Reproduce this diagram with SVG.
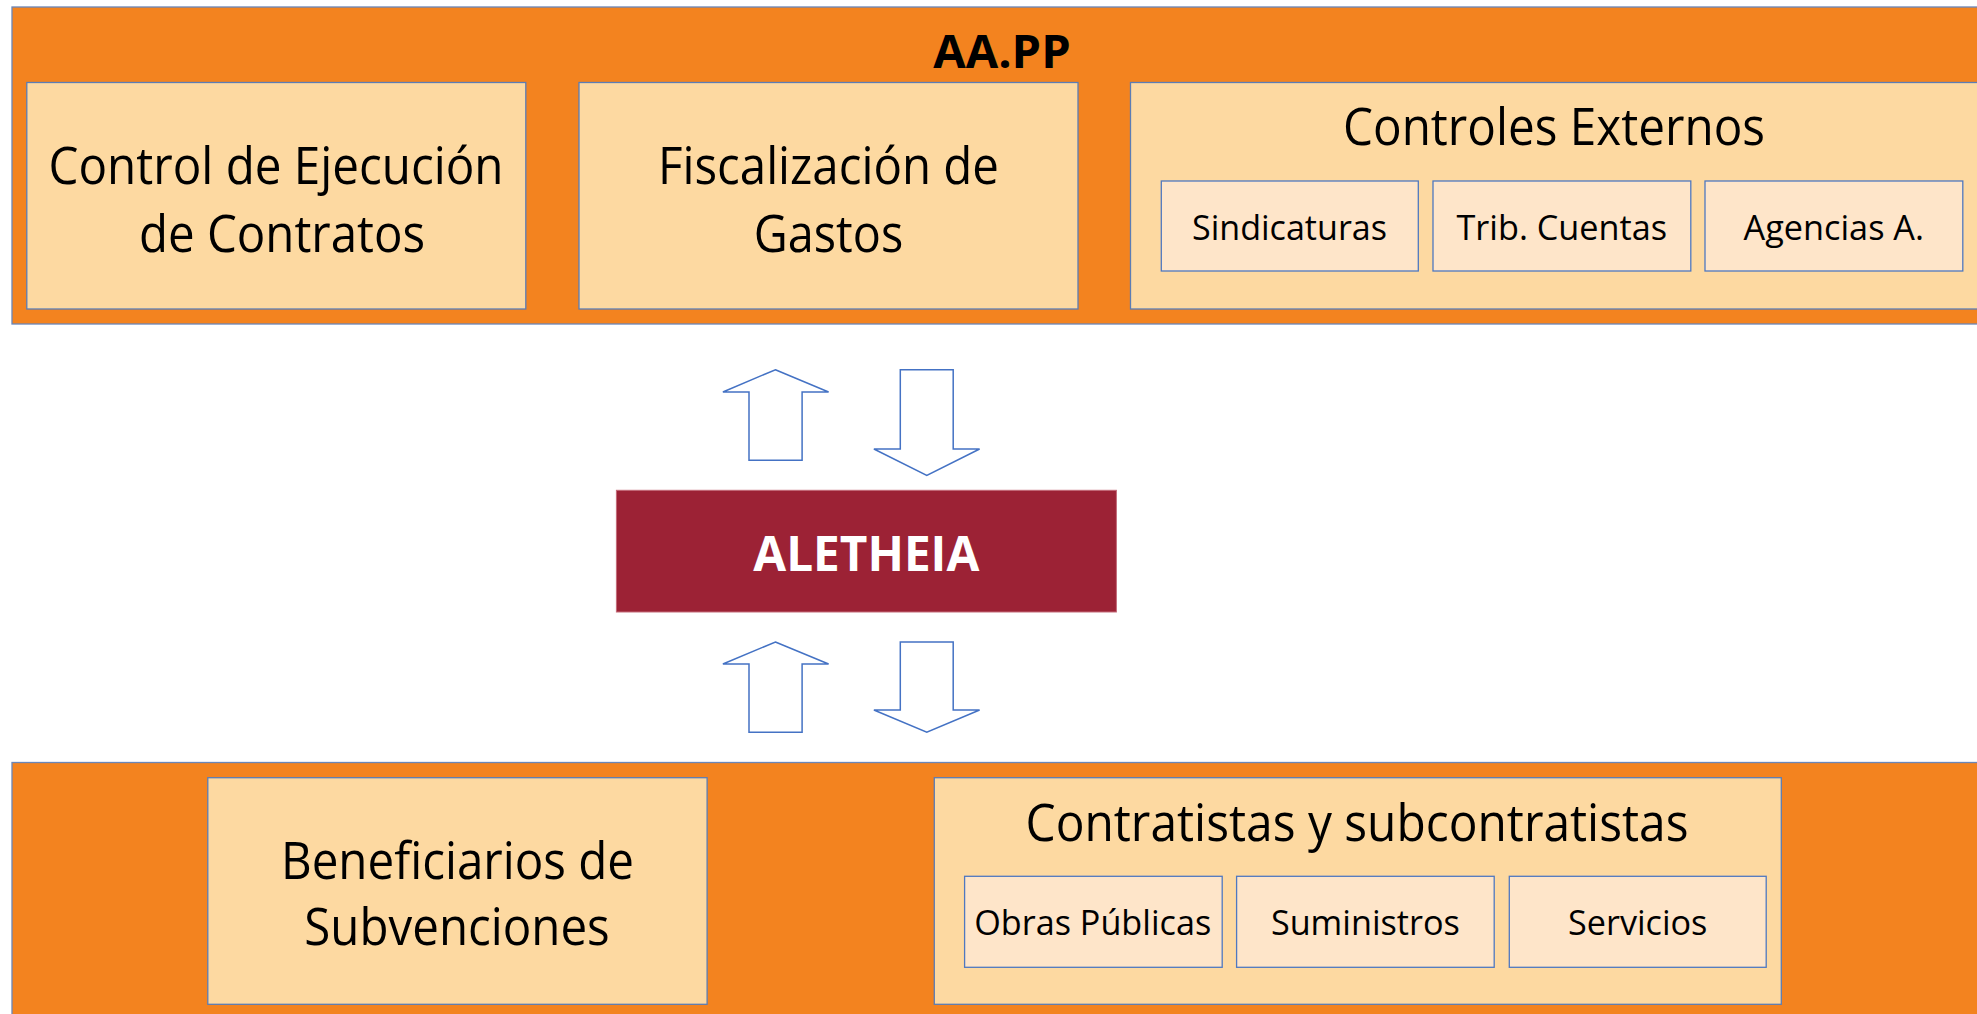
<svg xmlns="http://www.w3.org/2000/svg" width="1977" height="1014" viewBox="0 0 1977 1014">
<style>
.band{fill:#F3831F;stroke:#6A86B8;stroke-width:1.3}
.box{fill:#FDD9A1;stroke:#5B7DB5;stroke-width:1.3}
.sub{fill:#FEE5C9;stroke:#4F78C0;stroke-width:1.3}
.t{font-family:"Open Sans","Noto Sans","Liberation Sans",sans-serif;fill:#000;text-anchor:middle}
.big{font-size:51px}
.small{font-size:35.5px}
.bold{font-weight:bold}
.arrow{fill:#FFFFFF;stroke:#4472C4;stroke-width:1.5;stroke-linejoin:miter}
</style>
<rect width="1977" height="1014" fill="#FFFFFF"/>
<g id="aapp">
<rect class="band" x="12" y="7" width="2000" height="317"/>
<text class="t bold" x="1002" y="68" font-size="46" textLength="137.5" lengthAdjust="spacingAndGlyphs">AA.PP</text>
</g>
<g id="control-ejecucion">
<rect class="box" x="26.8" y="82.5" width="499" height="226.5"/>
<text class="t big" x="276" y="184.4" textLength="455" lengthAdjust="spacingAndGlyphs">Control de Ejecución</text>
<text class="t big" x="282" y="251.5" textLength="286" lengthAdjust="spacingAndGlyphs">de Contratos</text>
</g>
<g id="fiscalizacion">
<rect class="box" x="579" y="82.5" width="499" height="226.5"/>
<text class="t big" x="828.5" y="184.4" textLength="341" lengthAdjust="spacingAndGlyphs">Fiscalización de</text>
<text class="t big" x="828.5" y="251.5" textLength="149.4" lengthAdjust="spacingAndGlyphs">Gastos</text>
</g>
<g id="controles-externos">
<rect class="box" x="1130.5" y="82.5" width="900" height="226.5"/>
<text class="t big" x="1554" y="144.5" textLength="422" lengthAdjust="spacingAndGlyphs">Controles Externos</text>
</g>
<g id="sindicaturas">
<rect class="sub" x="1161.3" y="181" width="257" height="90"/>
<text class="t small" x="1289.5" y="240.3" textLength="195" lengthAdjust="spacingAndGlyphs">Sindicaturas</text>
</g>
<g id="trib-cuentas">
<rect class="sub" x="1433" y="181" width="257.8" height="90"/>
<text class="t small" x="1561.8" y="240.3" textLength="210.7" lengthAdjust="spacingAndGlyphs">Trib. Cuentas</text>
</g>
<g id="agencias">
<rect class="sub" x="1705" y="181" width="257.8" height="90"/>
<text class="t small" x="1833.8" y="240.3" textLength="180.5" lengthAdjust="spacingAndGlyphs">Agencias A.</text>
</g>
<g id="aletheia">
<rect x="616.4" y="490.3" width="500" height="121.7" fill="#9C2235" stroke="#C46A78" stroke-width="1"/>
<text class="t bold" x="866.3" y="570.5" font-size="47.5" fill="#FFFFFF" style="fill:#FFFFFF" textLength="226" lengthAdjust="spacingAndGlyphs">ALETHEIA</text>
</g>
<g id="terceros">
<rect class="band" x="12" y="762.5" width="2000" height="300"/>
</g>
<g id="beneficiarios">
<rect class="box" x="207.8" y="777.7" width="499.3" height="226.6"/>
<text class="t big" x="457.5" y="878.5" textLength="353" lengthAdjust="spacingAndGlyphs">Beneficiarios de</text>
<text class="t big" x="457" y="945" textLength="305.4" lengthAdjust="spacingAndGlyphs">Subvenciones</text>
</g>
<g id="contratistas">
<rect class="box" x="934.3" y="777.7" width="847" height="226.6"/>
<text class="t big" x="1357" y="840.5" textLength="663" lengthAdjust="spacingAndGlyphs">Contratistas y subcontratistas</text>
</g>
<g id="obras">
<rect class="sub" x="964.6" y="876.3" width="257.6" height="91"/>
<text class="t small" x="1092.7" y="935" textLength="237" lengthAdjust="spacingAndGlyphs">Obras Públicas</text>
</g>
<g id="suministros">
<rect class="sub" x="1236.6" y="876.3" width="257.6" height="91"/>
<text class="t small" x="1365.4" y="935" textLength="189" lengthAdjust="spacingAndGlyphs">Suministros</text>
</g>
<g id="servicios">
<rect class="sub" x="1509.3" y="876.3" width="256.9" height="91"/>
<text class="t small" x="1637.7" y="935" textLength="139.4" lengthAdjust="spacingAndGlyphs">Servicios</text>
</g>
<g id="connectors">
<polygon class="arrow" points="775.4,369.7 828.6,392 802.1,392 802.1,460.3 749,460.3 749,392 722.9,392"/>
<polygon class="arrow" points="900.3,369.7 953.2,369.7 953.2,449 979.6,449 926.8,475.3 873.9,449 900.3,449"/>
<polygon class="arrow" points="775.4,642 828.6,664 802.1,664 802.1,732.3 749,732.3 749,664 722.9,664"/>
<polygon class="arrow" points="900.3,642 953.2,642 953.2,710 979.6,710 926.8,732.3 873.9,710 900.3,710"/>
</g>
</svg>
